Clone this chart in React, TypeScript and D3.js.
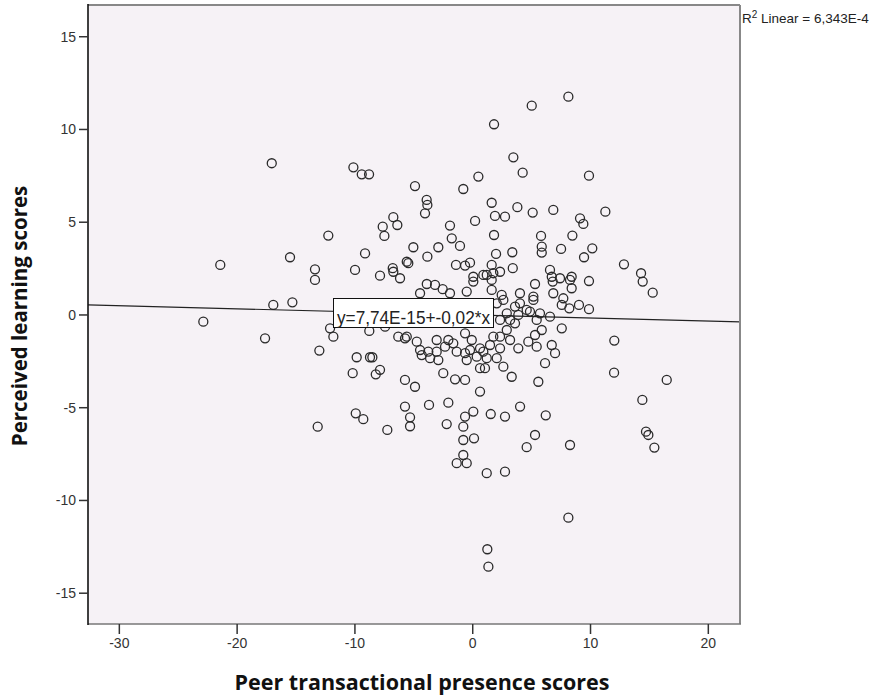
import React from "react";
import * as d3 from "d3";

const xValues = [
  -17.06, -10.13, -9.42, -8.8, -6.74, -7.64, -6.4, -7.5, -12.26, -9.14, -15.51, -21.43, -13.39, -13.39, -9.99, -7.87, -6.79, -6.74, -6.17, -5.47,
  -16.93, -15.31, -22.87, -12.11, -8.78, -7.44, -17.63, -11.83, -6.32, -5.6,
  -13.02, -9.85, -8.72, -8.52, -10.19, -8.23, -7.87, -5.75, -9.93, -9.29, -13.16, -7.25, -5.75, -5.32, -5.32,
  5.01, 1.81, 8.12, 3.45, 4.24, 0.48, -0.8, -4.9, -3.91, -3.85, -4.05, 1.61, 1.89, 2.74, 3.79, 5.09, 6.84, -1.93, 0.2, 1.81,
  -1.78, -1.08, -2.92, -5.04, -3.85, -5.6, 1.98, 3.36, 5.8, 5.86, 5.86, 7.5, 3.4, 5.29, 6.56, 6.71, 6.79, 7.41,
  -1.42, -0.65, -0.23, 0.05, 0.05, 0.9, 1.19, 1.61, 1.75, 2.32, 1.61, -3.9, -3.2, -2.55, -1.93, -4.47, 1.61, 2.46, 4.01, 5.15, 6.84, 8.26,
  2.6, 3.59, 4.01, 5.15, 7.56, 7.69, -0.51, 2.32, 3.17, 3.87, 4.86, 5.71, 6.56, 7.56, 2.89, 3.59, 2.32, 3.17, 3.87, 4.72, 5.29, 5.43, 5.86, 6.71, 6.99, 6.14,
  -5.75, -4.75, -4.47, -4.33, -3.77, -3.06, -2.92, -3.62, -2.07, -1.65, -2.35, -1.36, -0.65, -0.08, -0.65, -0.23, 0.62, 0.9, -0.51, 0.34, 1.19, 0.62, 1.04, 1.47, 1.75, 2.32, 2.04, 2.6,
  -4.9, -2.5, -1.5, -0.65, 0.62, 3.31, 5.57, -3.71, -2.07, -2.21, -0.65, 0.05, 1.53, 2.74, 4.02, 6.2, -0.8, -0.8, 0.11, 5.29, 4.58, 8.26, -0.8, -1.36, -0.51, 1.19, 2.74,
  8.12, 1.24, 1.33,
  9.87, 11.26, 9.11, 9.39, 8.46, 10.15, 9.45, 8.4, 8.4, 9.87, 12.84, 14.29, 14.43, 15.28, 8.2, 9.02, 9.87, 12.02, 12.0, 16.47, 14.4, 14.71, 14.91, 15.42,
  -3.06, 2.04, 2.89, 4.58, 5.43,
];

const yValues = [
  8.18, 7.96, 7.58, 7.58, 5.27, 4.76, 4.85, 4.26, 4.28, 3.32, 3.11, 2.7, 2.46, 1.89, 2.43, 2.12, 2.52, 2.33, 1.98, 2.79,
  0.54, 0.68, -0.36, -0.72, -0.86, -0.63, -1.26, -1.17, -1.17, -1.17,
  -1.92, -2.28, -2.28, -2.28, -3.14, -3.2, -2.96, -3.5, -5.3, -5.62, -6.02, -6.2, -4.94, -5.52, -6.0,
  11.28, 10.28, 11.77, 8.5, 7.67, 7.46, 6.79, 6.95, 6.2, 5.93, 5.48, 6.05, 5.34, 5.3, 5.81, 5.52, 5.66, 4.82, 5.07, 4.31,
  4.13, 3.72, 3.65, 3.65, 3.14, 2.87, 3.29, 3.38, 4.26, 3.68, 3.36, 3.56, 2.52, 1.67, 2.43, 2.06, 1.8, 1.98,
  2.7, 2.66, 2.82, 2.06, 1.8, 2.16, 2.16, 2.7, 2.25, 2.33, 1.89, 1.67, 1.62, 1.39, 1.17, 1.17, 1.35, 1.08, 1.17, 0.99, 1.17, 1.89,
  0.81, 0.45, 0.63, 0.81, 0.54, 0.9, 1.26, -0.27, -0.27, 0.0, 0.18, 0.09, -0.09, -0.72, -0.81, -0.45, -1.17, -1.35, -1.8, -1.44, -1.08, -1.71, -0.81, -1.62, -2.06, -2.6,
  -1.26, -1.44, -1.89, -2.16, -1.98, -1.98, -2.43, -2.33, -1.35, -1.53, -1.71, -1.98, -0.99, -1.35, -2.06, -1.89, -1.8, -1.98, -2.43, -2.25, -2.33, -2.87, -2.87, -1.62, -1.17, -1.8, -2.33, -2.79,
  -3.87, -3.14, -3.47, -3.5, -4.13, -3.33, -3.6, -4.85, -4.73, -5.88, -5.48, -5.21, -5.34, -5.48, -4.94, -5.41, -6.02, -6.74, -6.65, -6.47, -7.13, -7.01, -7.55, -7.99, -7.99, -8.53, -8.45,
  -10.93, -12.63, -13.57,
  7.51, 5.57, 5.21, 4.91, 4.28, 3.59, 3.11, 2.06, 1.44, 1.83, 2.73, 2.25, 1.8, 1.2, 0.36, 0.54, 0.31, -1.38, -3.11, -3.5, -4.58, -6.29, -6.47, -7.15,
  -1.35, 0.63, 0.09, 0.27, -0.27,
];

const xTicks = [-30, -20, -10, 0, 10, 20];
const yTicks = [-15, -10, -5, 0, 5, 10, 15];
const fitIntercept = 7.74e-15;
const fitSlope = -0.0166;
const fitLabel = "y=7,74E-15+-0,02*x";
const r2Label = "6,343E-4";
const xTitle = "Peer transactional presence scores";
const yTitle = "Perceived learning scores";

export default function App() {
  const W = 886;
  const H = 698;
  const left = 88, right = 740, top = 5, bottom = 624;
  const x = d3.scaleLinear().domain([-32.66, 22.69]).range([left, right]);
  const y = d3.scaleLinear().domain([-16.66, 16.71]).range([bottom, top]);
  const pts = xValues.map((v, i) => [v, yValues[i]] as [number, number]);
  const [dx0, dx1] = x.domain();
  const line = d3.line<number>().x((d) => x(d)).y((d) => y(fitIntercept + fitSlope * d));
  const tickFont = "'Liberation Sans', Arial, sans-serif";

  return (
    <svg width={W} height={H} style={{ position: "absolute", left: 0, top: 0, background: "#fff" }}>
      <rect x={left} y={top} width={right - left} height={bottom - top} fill="#f6f2f6" />
      {pts.map((p, i) => (
        <circle key={i} cx={x(p[0])} cy={y(p[1])} r={4.5} fill="none" stroke="#2a2a2a" strokeWidth={1.3} />
      ))}
      <path d={line([dx0, dx1]) || ""} stroke="#222" strokeWidth={1.2} fill="none" />
      <line x1={left} x2={right} y1={top} y2={top} stroke="#888" strokeWidth={2} />
      <line x1={right} x2={right} y1={top} y2={bottom} stroke="#888" strokeWidth={2} />
      <line x1={left} x2={right + 1} y1={bottom} y2={bottom} stroke="#777" strokeWidth={1.5} />
      <line x1={left} x2={left} y1={top - 1} y2={bottom + 1} stroke="#111" strokeWidth={1.6} />
      {yTicks.map((t) => (
        <g key={"y" + t}>
          <line x1={left - 9} x2={left} y1={y(t)} y2={y(t)} stroke="#333" strokeWidth={1.5} />
          <text x={left - 12} y={y(t)} dy="0.35em" textAnchor="end" fontSize={14} fontFamily={tickFont} fill="#333">
            {t}
          </text>
        </g>
      ))}
      {xTicks.map((t) => (
        <g key={"x" + t}>
          <line x1={x(t)} x2={x(t)} y1={bottom} y2={bottom + 10} stroke="#333" strokeWidth={1.5} />
          <text x={x(t)} y={bottom + 24} textAnchor="middle" fontSize={14} fontFamily={tickFont} fill="#333">
            {t}
          </text>
        </g>
      ))}
      <rect x={333.5} y={298.5} width={160} height={29} fill="#fff" stroke="#111" strokeWidth={1} />
      <text x={337} y={324} fontSize={19} fontFamily={tickFont} fill="#222" textLength={153} lengthAdjust="spacingAndGlyphs">
        {fitLabel}
      </text>
      <text x={742} y={23} fontSize={13.5} fontFamily={tickFont} fill="#222">
        R<tspan dy={-5} fontSize={10}>2</tspan><tspan dy={5}> Linear = {r2Label}</tspan>
      </text>
      <text x={422} y={690} textAnchor="middle" fontSize={21.5} fontWeight={700} fontFamily="'Open Sans', sans-serif" fill="#111">
        {xTitle}
      </text>
      <text transform={`translate(27,316) rotate(-90)`} textAnchor="middle" fontSize={20.5} fontWeight={700} fontFamily="'Open Sans', sans-serif" fill="#111">
        {yTitle}
      </text>
    </svg>
  );
}
